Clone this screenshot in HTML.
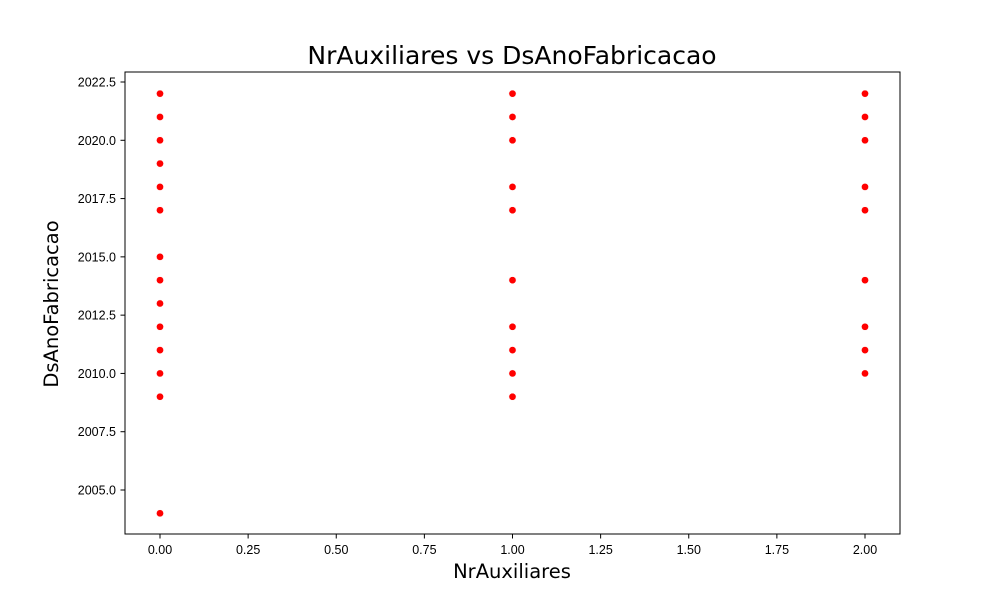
<!DOCTYPE html>
<html><head><meta charset="utf-8"><style>
body{margin:0;background:#fff;}
svg{display:block;font-family:"Liberation Sans",sans-serif;}
</style></head><body>
<svg id="chart" width="1000" height="600">
<text x="512" y="64" font-size="25" text-anchor="middle" font-family="DejaVu Sans, sans-serif">NrAuxiliares vs DsAnoFabricacao</text>
<text x="512" y="578" font-size="19.5" text-anchor="middle" font-family="DejaVu Sans, sans-serif">NrAuxiliares</text>
<text x="58" y="304" font-size="19.5" text-anchor="middle" font-family="DejaVu Sans, sans-serif" transform="rotate(-90 58 304)">DsAnoFabricacao</text>
<g id="xticks"></g>
<g id="yticks"></g>
<g id="points"></g>
<rect x="125" y="72" width="775" height="462" fill="none" stroke="#000" stroke-width="1"/>
</svg>
<script>
const xValues=[0,0,0,0,0,0,0,0,0,0,0,0,0,0, 1,1,1,1,1,1,1,1,1,1, 2,2,2,2,2,2,2,2,2];
const yValues=[2022,2021,2020,2019,2018,2017,2015,2014,2013,2012,2011,2010,2009,2004,
 2022,2021,2020,2018,2017,2014,2012,2011,2010,2009,
 2022,2021,2020,2018,2017,2014,2012,2011,2010];
const xTickLabels=["0.00","0.25","0.50","0.75","1.00","1.25","1.50","1.75","2.00"];
const yTickLabels=["2005.0","2007.5","2010.0","2012.5","2015.0","2017.5","2020.0","2022.5"];
const NS="http://www.w3.org/2000/svg";
function sx(v){return 160+(v-0)*352.5;}
function sy(v){return 490-(v-2005)*(408/17.5);}
function mk(tag,attrs,parent){const e=document.createElementNS(NS,tag);for(const k in attrs)e.setAttribute(k,attrs[k]);parent.appendChild(e);return e;}
const xg=document.getElementById('xticks'),yg=document.getElementById('yticks'),pg=document.getElementById('points');
xTickLabels.forEach(l=>{const x=sx(parseFloat(l));
 const t=mk('line',{x1:x,x2:x,y1:534,y2:538.5,stroke:'#000'},xg);
 
 
 const tx=mk('text',{x:x,y:554,'font-size':12.5,'text-anchor':'middle'},xg);tx.textContent=l;
 
 
});
yTickLabels.forEach(l=>{const y=sy(parseFloat(l));
 const t=mk('line',{x1:120.5,x2:125,y1:y,y2:y,stroke:'#000'},yg);
 
 
 const tx=mk('text',{x:116,y:y+4.5,'font-size':12.5,'text-anchor':'end'},yg);tx.textContent=l;
 
 
});
xValues.forEach((xv,i)=>{
 const c=mk('circle',{cx:sx(xv),cy:sy(yValues[i]),r:3.6,fill:'#ff0000',stroke:'#fff','stroke-width':0.5},pg);
 
 
});
</script>
</body></html>
